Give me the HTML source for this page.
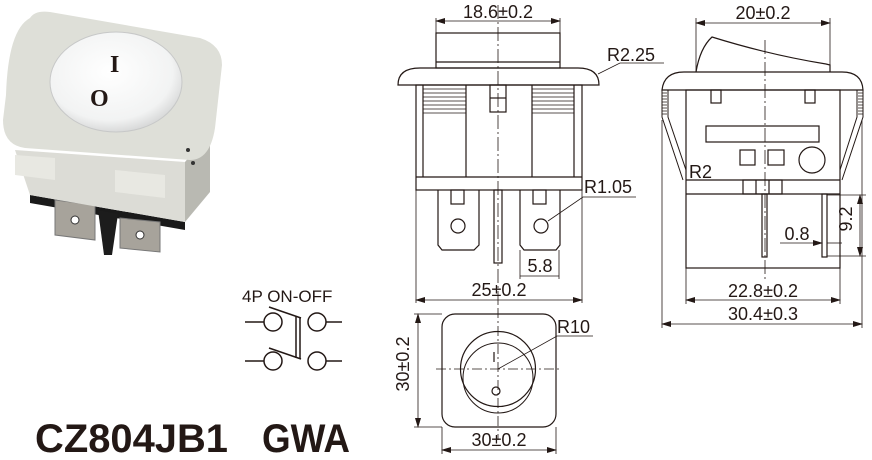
<!DOCTYPE html>
<html><head><meta charset="utf-8"><style>
html,body{margin:0;padding:0;background:#fff;}
svg{display:block;}
text{font-family:"Liberation Sans",sans-serif;fill:#231815;}
</style></head><body>
<svg width="872" height="460" viewBox="0 0 872 460" xmlns="http://www.w3.org/2000/svg">
<defs>
<marker id="a" markerWidth="10" markerHeight="6" refX="9" refY="3" orient="auto-start-reverse" markerUnits="userSpaceOnUse"><path d="M0,0 L10,3 L0,6 z" fill="#231815"/></marker>
<radialGradient id="dome" cx="0.45" cy="0.4" r="0.6"><stop offset="0" stop-color="#ffffff"/><stop offset="0.8" stop-color="#f2f3f3"/><stop offset="1" stop-color="#d9dada"/></radialGradient>
</defs>

<!-- PHOTO -->
<g>
<polygon points="30,195 185,222 185,230 30,203" fill="#1a1a1a"/>
<polygon points="55,200 95,205 95,240 55,235" fill="#a7a39b" stroke="#777" stroke-width="1"/>
<polygon points="120,218 160,222 160,252 120,248" fill="#a7a39b" stroke="#777" stroke-width="1"/>
<circle cx="75" cy="220" r="4" fill="#fff" stroke="#333"/>
<circle cx="140" cy="235" r="4" fill="#fff" stroke="#333"/>
<polygon points="98,210 118,214 112,255 104,255" fill="#1c1c1c"/>
<polygon points="15,150 185,162 185,222 30,195" fill="#dcdcd6"/>
<polygon points="185,162 210,132 210,192 185,222" fill="#b9b9b2"/>
<polygon points="15,155 55,158 55,180 15,175" fill="#e8e8e2"/>
<polygon points="115,170 165,175 165,198 115,192" fill="#e8e8e2"/>
<path d="M30,18 Q35,10 50,12 L200,38 Q222,45 222,65 L215,128 Q210,160 190,160 L25,148 Q3,145 3,120 L6,95 Q8,30 30,18 z" fill="#dedfd8"/>
<ellipse cx="116" cy="82" rx="66" ry="50" fill="url(#dome)" stroke="#c7c8c8" stroke-width="1"/>
<text x="110" y="72" font-size="24" font-weight="bold" style="font-family:'Liberation Serif',serif">I</text>
<text x="90" y="106" font-size="24" font-weight="bold" style="font-family:'Liberation Serif',serif">O</text>
<circle cx="188" cy="150" r="2" fill="#333"/><circle cx="193" cy="163" r="2" fill="#333"/>
</g>

<g fill="none" stroke="#231815" stroke-width="1.2">
<!-- FRONT VIEW -->
<line x1="436" y1="18" x2="436" y2="33" stroke-width="0.8"/><line x1="560" y1="18" x2="560" y2="33" stroke-width="0.8"/>
<line x1="436" y1="21" x2="560" y2="21" stroke-width="0.8" marker-start="url(#a)" marker-end="url(#a)"/>
<rect x="436" y="33" width="124" height="35"/>
<line x1="436" y1="62" x2="560" y2="62"/>
<path d="M398,85 Q398,68 420,68 L578,68 Q599,68 599,85 Z"/>
<rect x="416" y="85" width="166" height="105"/>
<line x1="416" y1="177" x2="582" y2="177"/>
<line x1="423" y1="85" x2="423" y2="177"/><line x1="466" y1="85" x2="466" y2="177"/>
<line x1="532" y1="85" x2="532" y2="177"/><line x1="574" y1="85" x2="574" y2="177"/>
<g stroke-width="0.8">
<line x1="423" y1="89" x2="466" y2="89"/><line x1="423" y1="93" x2="466" y2="93"/><line x1="423" y1="97" x2="466" y2="97"/><line x1="423" y1="101" x2="466" y2="101"/><line x1="423" y1="105" x2="466" y2="105"/><line x1="423" y1="109" x2="466" y2="109"/><line x1="423" y1="113" x2="466" y2="113"/>
<line x1="532" y1="89" x2="574" y2="89"/><line x1="532" y1="93" x2="574" y2="93"/><line x1="532" y1="97" x2="574" y2="97"/><line x1="532" y1="101" x2="574" y2="101"/><line x1="532" y1="105" x2="574" y2="105"/><line x1="532" y1="109" x2="574" y2="109"/><line x1="532" y1="113" x2="574" y2="113"/>
</g>
<rect x="490" y="85" width="16" height="27"/><line x1="490" y1="98" x2="506" y2="98"/>
<path d="M438,190 L438,245 L442,250 L474,250 L479,245 L479,190"/>
<rect x="451" y="190" width="13" height="14"/><circle cx="458" cy="226" r="7"/>
<path d="M520,190 L520,245 L524,250 L556,250 L560,245 L560,190"/>
<rect x="533" y="190" width="13" height="14"/><circle cx="541" cy="226" r="7"/>
<rect x="494" y="190" width="8" height="73"/>
<line x1="498" y1="5" x2="498" y2="305" stroke-width="0.8" stroke-dasharray="14,3,2,3"/>
<polyline points="598,74 620,63 664,63" stroke-width="0.8"/>
<polyline points="548,221 583,197 636,197" stroke-width="0.8"/>
<line x1="520" y1="250" x2="520" y2="279" stroke-width="0.8"/><line x1="559" y1="250" x2="559" y2="279" stroke-width="0.8"/>
<line x1="520" y1="276" x2="559" y2="276" stroke-width="0.8"/>
<line x1="416" y1="190" x2="416" y2="303" stroke-width="0.8"/><line x1="582" y1="190" x2="582" y2="303" stroke-width="0.8"/>
<line x1="416" y1="300" x2="582" y2="300" stroke-width="0.8" marker-start="url(#a)" marker-end="url(#a)"/>

<!-- SIDE VIEW -->
<line x1="696" y1="18" x2="696" y2="72" stroke-width="0.8"/><line x1="830" y1="18" x2="830" y2="65" stroke-width="0.8"/>
<line x1="696" y1="23" x2="830" y2="23" stroke-width="0.8" marker-start="url(#a)" marker-end="url(#a)"/>
<path d="M696,72 Q700,48 712,37 Q770,55 826,64 L830,65 L830,72"/>
<path d="M662,90 Q664,72 684,72 L842,72 Q862,72 863,90 Z"/>
<rect x="686" y="90" width="154" height="178"/>
<line x1="686" y1="180" x2="840" y2="180"/><line x1="686" y1="194" x2="840" y2="194"/>
<path d="M662,90 L662,117 L683,180 M668,90 L668,117 L686,170" stroke-width="1"/>
<path d="M863,90 L863,117 L842,180 M857,90 L857,117 L840,170" stroke-width="1"/>
<path d="M662,93 h5 M662,96 h5 M662,99 h5 M662,102 h5 M662,105 h5 M662,108 h5 M662,111 h5 M662,114 h5 M858,93 h5 M858,96 h5 M858,99 h5 M858,102 h5 M858,105 h5 M858,108 h5 M858,111 h5 M858,114 h5" stroke-width="0.8"/>
<rect x="711" y="90" width="10" height="13"/><rect x="805" y="90" width="10" height="13"/>
<rect x="706" y="126" width="113" height="16"/>
<rect x="740" y="150" width="15" height="15"/><rect x="768" y="150" width="16" height="15"/>
<circle cx="812" cy="160" r="13"/>
<rect x="743" y="180" width="39" height="14"/><line x1="756" y1="180" x2="756" y2="194"/><line x1="769" y1="180" x2="769" y2="194"/>
<rect x="762" y="194" width="5" height="63"/><rect x="822" y="194" width="5" height="63"/>
<line x1="765" y1="40" x2="765" y2="280" stroke-width="0.8" stroke-dasharray="14,3,2,3"/>
<line x1="827" y1="195" x2="866" y2="195" stroke-width="0.8"/><line x1="827" y1="256" x2="866" y2="256" stroke-width="0.8"/>
<line x1="860" y1="195" x2="860" y2="256" stroke-width="0.8" marker-start="url(#a)" marker-end="url(#a)"/>
<line x1="780" y1="243" x2="822" y2="243" stroke-width="0.8" marker-end="url(#a)"/><line x1="827" y1="243" x2="842" y2="243" stroke-width="0.8"/>
<line x1="686" y1="268" x2="686" y2="304" stroke-width="0.8"/><line x1="840" y1="268" x2="840" y2="304" stroke-width="0.8"/>
<line x1="686" y1="300" x2="840" y2="300" stroke-width="0.8" marker-start="url(#a)" marker-end="url(#a)"/>
<line x1="662" y1="120" x2="662" y2="328" stroke-width="0.8"/><line x1="862" y1="120" x2="862" y2="328" stroke-width="0.8"/>
<line x1="662" y1="324" x2="862" y2="324" stroke-width="0.8" marker-start="url(#a)" marker-end="url(#a)"/>

<!-- BOTTOM VIEW -->
<rect x="442" y="314" width="114" height="113" rx="13"/>
<circle cx="498" cy="369" r="37.5"/>
<path d="M463,378 A35,35 0 0 1 533,378 A35,35 0 0 1 463,378" stroke-width="1"/>
<line x1="436" y1="369" x2="562" y2="369" stroke-width="0.8" stroke-dasharray="10,3,2,3"/>
<line x1="498" y1="308" x2="498" y2="440" stroke-width="0.8" stroke-dasharray="10,3,2,3"/>
<circle cx="496" cy="391" r="4"/>
<line x1="494" y1="352" x2="494" y2="362"/>
<polyline points="498,369 557,336 593,336" stroke-width="0.8"/>
<line x1="414" y1="314" x2="442" y2="314" stroke-width="0.8"/><line x1="414" y1="427" x2="442" y2="427" stroke-width="0.8"/>
<line x1="418" y1="314" x2="418" y2="427" stroke-width="0.8" marker-start="url(#a)" marker-end="url(#a)"/>
<line x1="442" y1="427" x2="442" y2="454" stroke-width="0.8"/><line x1="556" y1="427" x2="556" y2="454" stroke-width="0.8"/>
<line x1="442" y1="450" x2="556" y2="450" stroke-width="0.8" marker-start="url(#a)" marker-end="url(#a)"/>

<!-- SCHEMATIC -->
<g stroke-width="1.5">
<circle cx="273" cy="322" r="9"/><circle cx="317" cy="322" r="9"/>
<circle cx="273" cy="361" r="9"/><circle cx="317" cy="361" r="9"/>
<line x1="245" y1="322" x2="264" y2="322"/><line x1="326" y1="322" x2="342" y2="322"/>
<line x1="245" y1="361" x2="264" y2="361"/><line x1="326" y1="361" x2="342" y2="361"/>
<line x1="269" y1="307" x2="301" y2="318"/><line x1="269" y1="348" x2="301" y2="359"/>
<line x1="296" y1="316" x2="296" y2="358"/><line x1="300" y1="317" x2="300" y2="359"/>
</g>
</g>

<g font-size="18">
<text x="498" y="18" text-anchor="middle">18.6±0.2</text>
<text x="607" y="61">R2.25</text>
<text x="584" y="193">R1.05</text>
<text x="540" y="272" text-anchor="middle">5.8</text>
<text x="499" y="296" text-anchor="middle">25±0.2</text>
<text x="763" y="19" text-anchor="middle">20±0.2</text>
<text x="689" y="178">R2</text>
<text x="797" y="240" text-anchor="middle">0.8</text>
<text x="858" y="225" text-anchor="middle" transform="rotate(-90 852 225)">9.2</text>
<text x="763" y="297" text-anchor="middle">22.8±0.2</text>
<text x="763" y="320" text-anchor="middle">30.4±0.3</text>
<text x="557" y="333">R10</text>
<text x="415" y="370" text-anchor="middle" transform="rotate(-90 409 370)">30±0.2</text>
<text x="499" y="446" text-anchor="middle">30±0.2</text>
<text x="242" y="302" font-size="17">4P  ON-OFF</text>
</g>
<text x="35" y="452" font-size="40" font-weight="bold" textLength="193" lengthAdjust="spacingAndGlyphs">CZ804JB1</text>
<text x="262" y="452" font-size="40" font-weight="bold" textLength="88" lengthAdjust="spacingAndGlyphs">GWA</text>
</svg>
</body></html>
